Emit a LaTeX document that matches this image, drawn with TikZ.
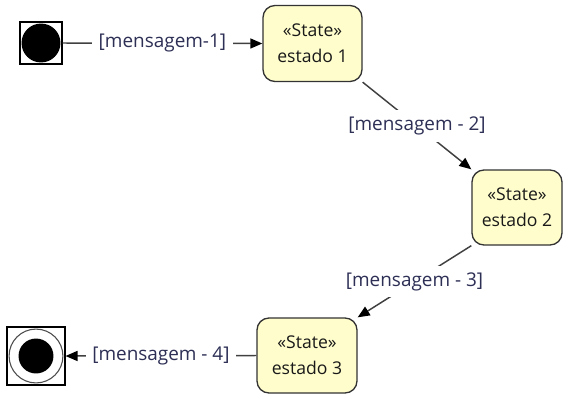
\documentclass[tikz,border=0pt]{standalone}
\usepackage{fontspec}
\setmainfont{Open Sans}
\usetikzlibrary{arrows.meta}
\definecolor{statefill}{HTML}{FFFDCC}
\definecolor{msgtext}{HTML}{2D2F55}
\tikzset{
	estado/.style = {draw = black!80, fill = statefill, rounded corners = 9pt, line width = 1pt, align = center, inner sep = 0pt, minimum height = 57pt, text = black!90, font = \fontsize{13.2}{19.5}\selectfont},
	msg/.style = {fill = white, inner sep = 5pt, text = msgtext, font = \fontsize{14.2}{16}\selectfont},
	trans/.style = {draw = black!75, line width = 1.1pt},
	seta/.style = {trans, -{Triangle[length = 9pt, width = 7.5pt, color = black]}}
}
\begin{document}
\begin{tikzpicture}[x = .75pt, y = -.75pt]
	\useasboundingbox (0,0) rectangle (563,394);
	\node[draw, line width = .8pt, minimum size = 31.5pt, inner sep = 0pt] (ini) at (41,43) {};
	\fill (ini) circle (14.6pt);
	\node[draw, line width = .8pt, minimum size = 43.5pt, inner sep = 0pt] (fim) at (36,356) {};
	\draw[black!70, line width = .8pt] (fim) circle (20.2pt);
	\fill (fim) circle (13.1pt);
	\node[estado, minimum width = 74.25pt] (e1) at (312.5,43.5) {«State»\\estado 1};
	\node[estado, minimum width = 67.5pt, minimum height = 56.25pt] (e2) at (517,207.5) {«State»\\estado 2};
	\node[estado, minimum width = 75pt, minimum height = 56.25pt] (e3) at (307,355.5) {«State»\\estado 3};
	\draw[seta] (ini.east) -- node[msg] {[mensagem-1]} (e1.west);
	\draw[seta] (e1.south east) -- node[msg] {[mensagem - 2]} (e2.north west);
	\draw[seta] (e2.south west) -- node[msg] {[mensagem - 3]} (e3.north east);
	\draw[seta] (e3.west) -- node[msg] {[mensagem - 4]} (fim.east);
\end{tikzpicture}
\end{document}
